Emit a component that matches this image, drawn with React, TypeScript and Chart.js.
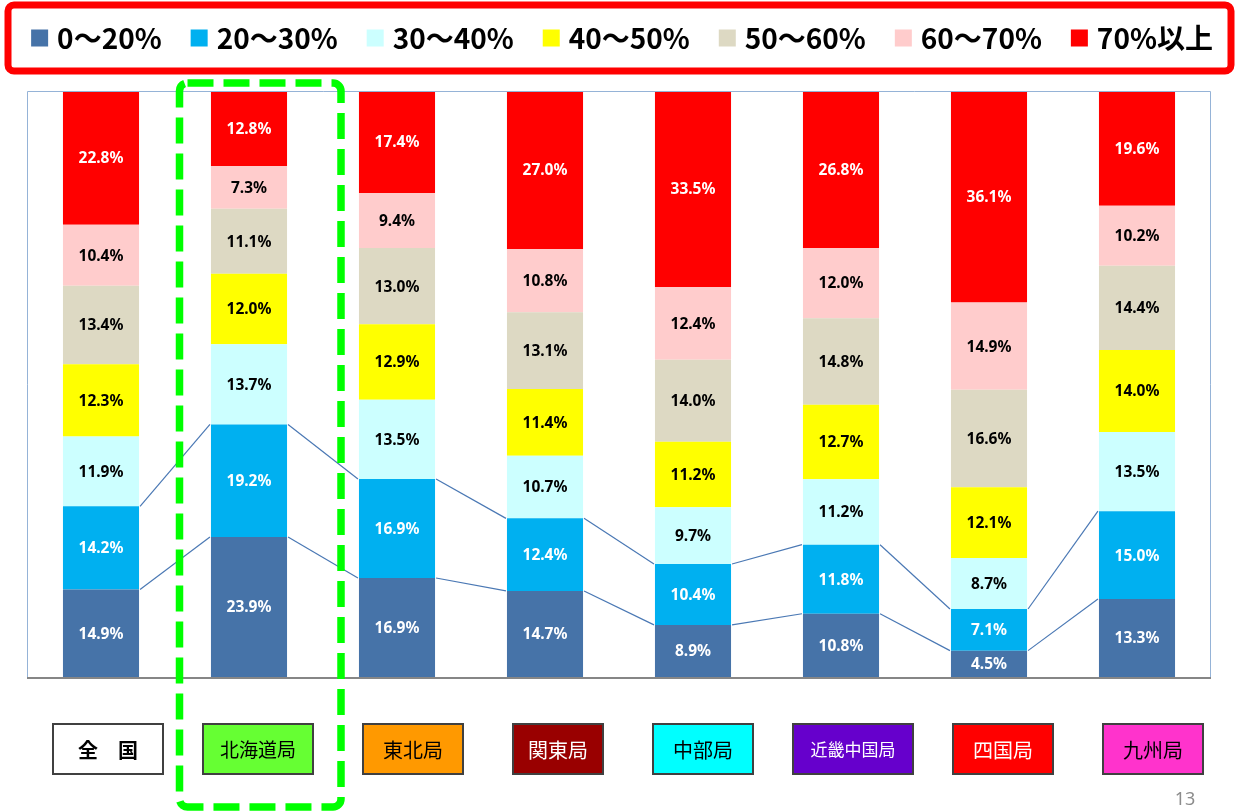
import React, { useEffect, useRef } from "react";
import { Chart, registerables } from "chart.js";

Chart.register(...registerables);

// ---- data ----
const categories = ["全国", "北海道局", "東北局", "関東局", "中部局", "近畿中国局", "四国局", "九州局"];
const categoryDisplay = ["全　国", "北海道局", "東北局", "関東局", "中部局", "近畿中国局", "四国局", "九州局"];
const seriesNames = ["0～20%", "20～30%", "30～40%", "40～50%", "50～60%", "60～70%", "70%以上"];
const s0to20 = [14.9, 23.9, 16.9, 14.7, 8.9, 10.8, 4.5, 13.3];
const s20to30 = [14.2, 19.2, 16.9, 12.4, 10.4, 11.8, 7.1, 15.0];
const s30to40 = [11.9, 13.7, 13.5, 10.7, 9.7, 11.2, 8.7, 13.5];
const s40to50 = [12.3, 12.0, 12.9, 11.4, 11.2, 12.7, 12.1, 14.0];
const s50to60 = [13.4, 11.1, 13.0, 13.1, 14.0, 14.8, 16.6, 14.4];
const s60to70 = [10.4, 7.3, 9.4, 10.8, 12.4, 12.0, 14.9, 10.2];
const s70plus = [22.8, 12.8, 17.4, 27.0, 33.5, 26.8, 36.1, 19.6];
const pageNumber = "13";

// ---- styles ----
const seriesColors = ["#4673A8", "#00B0F0", "#CCFFFF", "#FFFF00", "#DDD9C3", "#FFCCCC", "#FF0000"];
const labelColors = ["#FFFFFF", "#FFFFFF", "#000000", "#000000", "#000000", "#000000", "#FFFFFF"];
const boxFills = ["#FFFFFF", "#66FF33", "#FF9900", "#990000", "#00FFFF", "#6600CC", "#FF0000", "#FF33CC"];
const boxTextColors = ["#000000", "#000000", "#000000", "#FFFFFF", "#000000", "#FFFFFF", "#FFFFFF", "#000000"];
const boxFonts = [
  "bold 20px 'Noto Sans CJK JP'",
  "19px 'Noto Sans CJK JP'",
  "20px 'Noto Sans CJK JP'",
  "20px 'Noto Sans CJK JP'",
  "20px 'Noto Sans CJK JP'",
  "17px 'Noto Sans CJK JP'",
  "20px 'Noto Sans CJK JP'",
  "20px 'Noto Sans CJK JP'",
];
const boxOffsets = [7, 9, 16, 13, 10, 12, 14, 16];
const boxWidths = [110, 110, 100, 90, 100, 120, 100, 100];

const allSeries = [s0to20, s20to30, s30to40, s40to50, s50to60, s60to70, s70plus];

const decorPlugin = {
  id: "decor",
  afterDatasetsDraw(chart: any) {
    const ctx = chart.ctx as CanvasRenderingContext2D;
    // series lines
    [0, 1].forEach((di) => {
      const meta = chart.getDatasetMeta(di);
      ctx.save();
      ctx.strokeStyle = "#4A78B4";
      ctx.lineWidth = 1.2;
      for (let i = 0; i < meta.data.length - 1; i++) {
        const a: any = meta.data[i];
        const b: any = meta.data[i + 1];
        ctx.beginPath();
        ctx.moveTo(a.x + a.width / 2 + 1, a.y);
        ctx.lineTo(b.x - b.width / 2 - 1, b.y);
        ctx.stroke();
      }
      ctx.restore();
    });
    // value labels
    ctx.save();
    ctx.font = "bold 15.5px 'Noto Sans', sans-serif";
    ctx.textAlign = "center";
    ctx.textBaseline = "middle";
    allSeries.forEach((arr, di) => {
      const meta = chart.getDatasetMeta(di);
      ctx.fillStyle = labelColors[di];
      meta.data.forEach((el: any, i: number) => {
        const y = (el.y + el.base) / 2;
        ctx.fillText(arr[i].toFixed(1) + "%", el.x, y + 1);
      });
    });
    ctx.restore();
  },
  afterDraw(chart: any) {
    const ctx = chart.ctx as CanvasRenderingContext2D;
    const area = chart.chartArea;
    // plot frame
    ctx.save();
    ctx.strokeStyle = "#95B3D7";
    ctx.lineWidth = 1;
    ctx.beginPath();
    ctx.moveTo(area.left + 0.5, area.bottom);
    ctx.lineTo(area.left + 0.5, area.top + 0.5);
    ctx.lineTo(area.right - 0.5, area.top + 0.5);
    ctx.lineTo(area.right - 0.5, area.bottom);
    ctx.stroke();
    ctx.strokeStyle = "#868686";
    ctx.lineWidth = 2;
    ctx.beginPath();
    ctx.moveTo(area.left, area.bottom + 1);
    ctx.lineTo(area.right, area.bottom + 1);
    ctx.stroke();
    ctx.restore();

    // legend
    ctx.save();
    ctx.strokeStyle = "#FF0000";
    ctx.lineWidth = 7;
    ctx.beginPath();
    (ctx as any).roundRect(8, 5, 1223, 66, 6);
    ctx.stroke();
    ctx.font = "bold 28px 'Noto Sans CJK JP', sans-serif";
    ctx.textBaseline = "middle";
    ctx.textAlign = "left";
    const sq = 17, gapIn = 9, gapOut = 29;
    const widths = seriesNames.map((n) => ctx.measureText(n).width);
    const total = widths.reduce((s, w) => s + sq + gapIn + w, 0) + gapOut * (seriesNames.length - 1);
    let x = 622 - total / 2;
    const cy = 38;
    seriesNames.forEach((n, i) => {
      ctx.fillStyle = seriesColors[i];
      ctx.fillRect(x, cy - sq / 2, sq, sq);
      x += sq + gapIn;
      ctx.fillStyle = "#000000";
      ctx.fillText(n, x, cy);
      x += widths[i] + gapOut;
    });
    ctx.restore();

    // category boxes
    const xs = chart.scales.x;
    ctx.save();
    categories.forEach((c, i) => {
      const cx = xs.getPixelForValue(i) + boxOffsets[i];
      const w = boxWidths[i];
      const top = 724, h = 50;
      ctx.fillStyle = boxFills[i];
      ctx.fillRect(cx - w / 2, top, w, h);
      ctx.strokeStyle = "#404040";
      ctx.lineWidth = 2;
      ctx.strokeRect(cx - w / 2, top, w, h);
      ctx.fillStyle = boxTextColors[i];
      ctx.font = boxFonts[i];
      ctx.textAlign = "center";
      ctx.textBaseline = "middle";
      ctx.fillText(categoryDisplay[i], cx, top + h / 2 + 1);
    });
    ctx.restore();

    // highlight dashed frame around 北海道局
    ctx.save();
    ctx.strokeStyle = "#00FF00";
    ctx.lineWidth = 7.5;
    ctx.setLineDash([26, 10]);
    ctx.beginPath();
    (ctx as any).roundRect(179.5, 83, 161.5, 724, 8);
    ctx.stroke();
    ctx.restore();

    // page number
    ctx.save();
    ctx.font = "18px 'Noto Sans', sans-serif";
    ctx.fillStyle = "#8C8C8C";
    ctx.textAlign = "center";
    ctx.textBaseline = "middle";
    ctx.fillText(pageNumber, 1185, 800);
    ctx.restore();
  },
};

export default function App() {
  const ref = useRef<HTMLCanvasElement>(null);
  useEffect(() => {
    if (!ref.current) return;
    const totals = categories.map((_, i) => allSeries.reduce((s, arr) => s + arr[i], 0));
    const chart = new Chart(ref.current, {
      type: "bar",
      data: {
        labels: categories,
        datasets: allSeries.map((arr, di) => ({
          label: seriesNames[di],
          data: arr.map((v, i) => (v / totals[i]) * 100),
          backgroundColor: seriesColors[di],
          borderWidth: 0,
          categoryPercentage: 1,
          barPercentage: 0.514,
        })),
      },
      options: {
        responsive: false,
        animation: false,
        layout: { padding: { left: 27, right: 24, top: 91, bottom: 135 } },
        plugins: { legend: { display: false }, tooltip: { enabled: false } },
        scales: {
          x: { stacked: true, display: false },
          y: { stacked: true, display: false, min: 0, max: 100 },
        },
      },
      plugins: [decorPlugin],
    });
    return () => chart.destroy();
  }, []);
  return (
    <canvas
      ref={ref}
      width={1235}
      height={812}
      style={{ position: "absolute", left: 0, top: 0 }}
    />
  );
}
